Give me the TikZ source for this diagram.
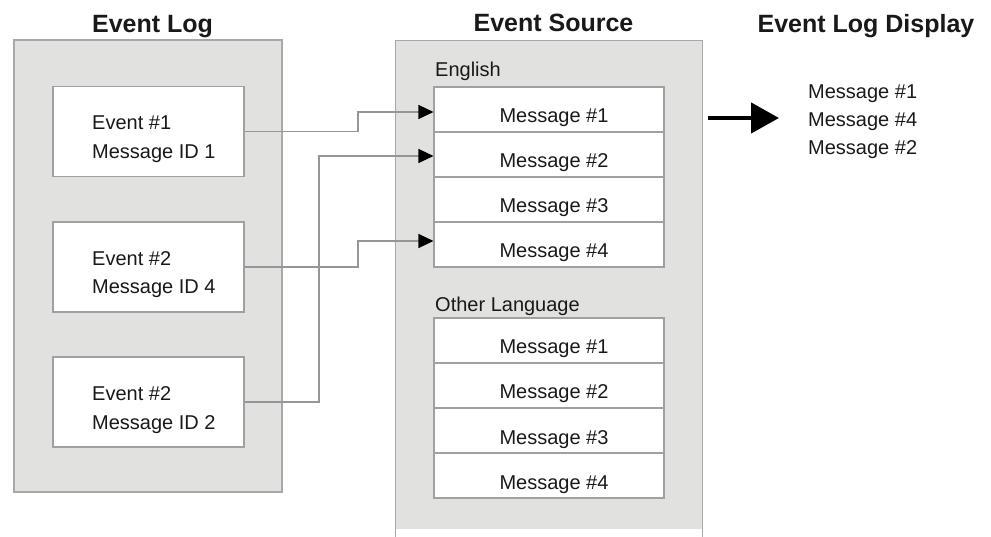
\documentclass[tikz,border=0pt]{standalone}
\usepackage{fontspec}
\setmainfont{Liberation Sans}
\usetikzlibrary{arrows.meta}
\definecolor{panelfill}{RGB}{225,225,223}
\definecolor{panelline}{RGB}{168,168,168}
\definecolor{boxline}{RGB}{160,160,160}
\definecolor{connline}{RGB}{150,150,150}
\definecolor{inkc}{RGB}{25,25,25}
\begin{document}
\begin{tikzpicture}[x=1pt,y=-1pt,
  panel/.style={draw=panelline,fill=panelfill,line width=1.3pt,inner sep=0pt},
  panelopen/.style={fill=panelfill,inner sep=0pt},
  paneledge/.style={draw=panelline,line width=1.3pt},
  evbox/.style={draw=boxline,fill=white,line width=1.1pt,minimum width=191pt,minimum height=90pt,inner sep=0pt},
  row/.style={draw=boxline,fill=white,line width=1.1pt,minimum width=230pt,minimum height=45pt,inner sep=0pt,
     font=\fontsize{20}{24}\selectfont,text=inkc,text height=30pt,text depth=3pt},
  txt/.style={font=\fontsize{20}{24}\selectfont,text=inkc,inner sep=0pt,anchor=base west},
  ttl/.style={font=\fontsize{25}{30}\selectfont\bfseries,text=inkc,inner sep=0pt,anchor=base},
  conn/.style={draw=connline,line width=1.1pt,-{Triangle[length=15pt,width=14pt,color=black]}},
  bigarrow/.style={draw=black,line width=4.5pt,-{Triangle[length=28pt,width=30pt]}}
]
\useasboundingbox (0,0) rectangle (991,537);

% titles
\node[ttl] (tlog) at (152.5,33) {Event Log};
\node[ttl] (tsrc) at (553.5,32) {Event Source};
\node[ttl] (tdisp) at (866,33) {Event Log Display};

% panels
\node[panel,minimum width=268pt,minimum height=452pt] (log) at (148,266) {};
\node[panelopen,minimum width=306pt,minimum height=488pt] (src) at (549,285) {};
\draw[paneledge] ([yshift=-8pt]src.south west) -- (src.north west) -- (src.north east) -- ([yshift=-8pt]src.south east);

% event boxes
\node[evbox] (e1) at (148.5,131.5) {};
\node[evbox] (e2) at (148.5,267) {};
\node[evbox] (e3) at (148.5,402) {};
\node[txt] (e1a) at ([xshift=-56.5pt,yshift=1.5pt]e1.center) {Event \#1};
\node[txt] (e1b) at ([xshift=-56.5pt,yshift=-27pt]e1.center) {Message ID 1};
\node[txt] (e2a) at ([xshift=-56.5pt,yshift=1.5pt]e2.center) {Event \#2};
\node[txt] (e2b) at ([xshift=-56.5pt,yshift=-27pt]e2.center) {Message ID 4};
\node[txt] (e3a) at ([xshift=-56.5pt,yshift=1.5pt]e3.center) {Event \#2};
\node[txt] (e3b) at ([xshift=-56.5pt,yshift=-27pt]e3.center) {Message ID 2};

% English
\node[txt] (eng) at (435,77) {English};
\node[row] (m1) at (549,109.5) {\hspace{10pt}Message \#1};
\node[row] (m2) at (549,154.5) {\hspace{10pt}Message \#2};
\node[row] (m3) at (549,199.5) {\hspace{10pt}Message \#3};
\node[row] (m4) at (549,244.5) {\hspace{10pt}Message \#4};

% Other language
\node[txt] (oth) at (435,311.5) {Other Language};
\node[row] (o1) at (549,340.5) {\hspace{10pt}Message \#1};
\node[row] (o2) at (549,385.5) {\hspace{10pt}Message \#2};
\node[row] (o3) at (549,430.5) {\hspace{10pt}Message \#3};
\node[row] (o4) at (549,475.5) {\hspace{10pt}Message \#4};

% connectors
\draw[conn] (e1.east) -- (358,131.5) -- (358,112) -- ([yshift=-2.5pt]m1.west);
\draw[conn] (e2.east) -- (358,267) -- (358,241) -- ([yshift=3.5pt]m4.west);
\draw[conn] (e3.east) -- (319,402) -- (319,156) -- ([yshift=-1.5pt]m2.west);

% display
\node[txt] (d1) at (808,98.5) {Message \#1};
\node[txt] (d2) at (808,126.5) {Message \#4};
\node[txt] (d3) at (808,154.5) {Message \#2};

\coordinate (bigA) at (708,118);
\coordinate (bigB) at (779,118);
\draw[bigarrow] (bigA) -- (bigB);
\end{tikzpicture}
\end{document}
